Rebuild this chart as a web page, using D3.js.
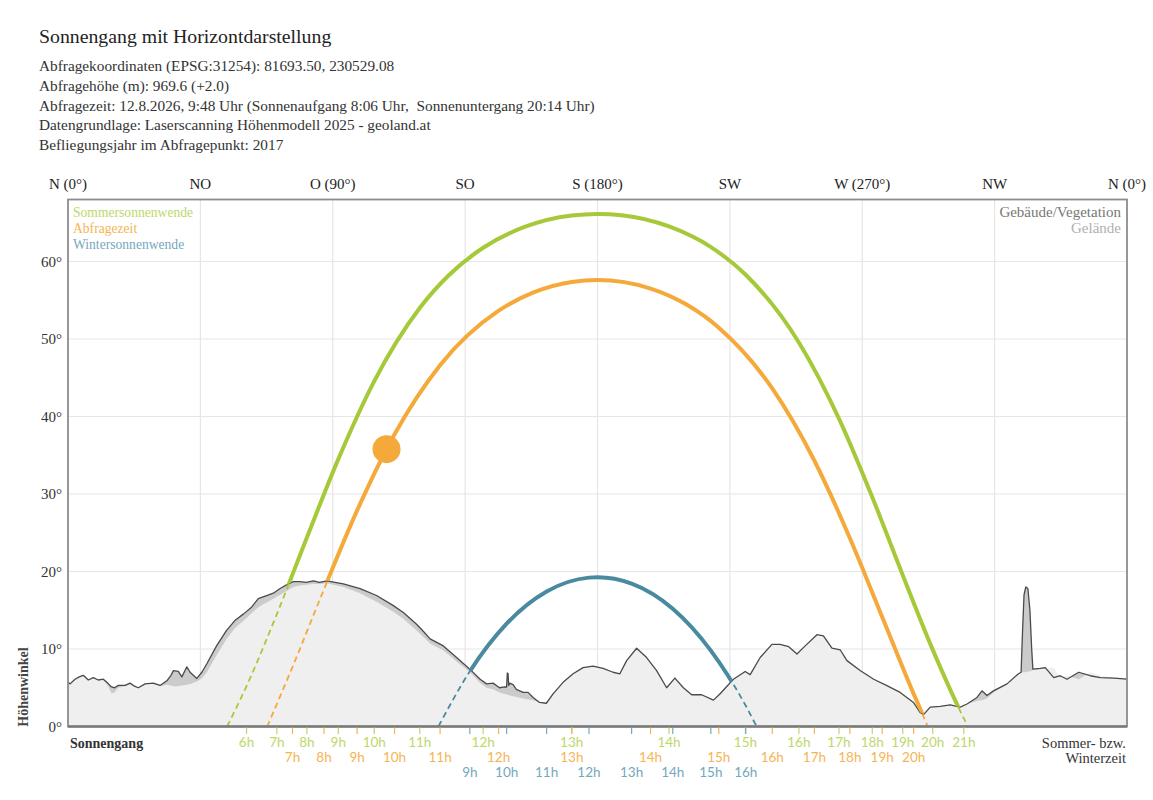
<!DOCTYPE html>
<html>
<head>
<meta charset="utf-8">
<script src="https://cdn.jsdelivr.net/npm/d3@7/dist/d3.min.js"></script>
<style>
  html, body { margin: 0; padding: 0; background: #fff; }
  svg { display: block; }
  .serif { font-family: "Liberation Serif", "Times New Roman", serif; }
  .sans { font-family: "Lato", "Noto Sans", sans-serif; }
</style>
</head>
<body>
<svg id="chart" width="1153" height="800"></svg>
<script>
// ---------------- DATA ----------------
const titleText = "Sonnengang mit Horizontdarstellung";
const infoLines = [
  "Abfragekoordinaten (EPSG:31254): 81693.50, 230529.08",
  "Abfragehöhe (m): 969.6 (+2.0)",
  "Abfragezeit: 12.8.2026, 9:48 Uhr (Sonnenaufgang 8:06 Uhr,  Sonnenuntergang 20:14 Uhr)",
  "Datengrundlage: Laserscanning Höhenmodell 2025 - geoland.at",
  "Befliegungsjahr im Abfragepunkt: 2017"
];
const compassAz = [0, 45, 90, 135, 180, 225, 270, 315, 360];
const compassLabels = ["N (0°)", "NO", "O (90°)", "SO", "S (180°)", "SW", "W (270°)", "NW", "N (0°)"];
const altTicks = [0, 10, 20, 30, 40, 50, 60];

// Horizon profile: azimuth (deg), total horizon incl. buildings/vegetation, terrain only
const horizonAz = [0, 0.7, 2.4, 3.8, 5.2, 6.9, 8.6, 10.3, 12.0, 13.5, 14.8, 15.8, 17.1, 19.4, 21.1, 22.6, 23.9, 26.2, 29.0, 31.3, 33.6, 35.0, 35.8, 37.5, 38.7, 40.4, 41.5, 43.8, 45.5, 47.2, 50.5, 53.9, 56.8, 59.6, 62.4, 64.7, 67.5, 69.8, 72.1, 74.9, 76.6, 78.9, 81.0, 83.4, 85.5, 88.0, 93.6, 99.3, 104.9, 110.6, 114.0, 118.5, 121.0, 123.1, 127.6, 132.1, 136.6, 140.1, 142.3, 144.5, 146.7, 148.4, 149.1, 149.35, 149.6, 149.8, 150.2, 151.3, 152.4, 154.7, 156.4, 158.1, 160.3, 162.6, 164.9, 168.3, 171.7, 175.1, 178.5, 181.9, 185.3, 187.6, 189.9, 193.3, 196.7, 200.1, 203.5, 206.3, 209.2, 212.0, 215.4, 219.4, 221.6, 226.2, 230.2, 231.9, 235.3, 239.3, 242.1, 245.0, 247.8, 250.6, 254.6, 256.8, 259.7, 262.5, 264.8, 269.4, 273.9, 278.2, 282.9, 287.4, 289.7, 291.0, 293.1, 296.5, 299.9, 303.3, 305.6, 309.0, 310.7, 312.4, 314.6, 319.2, 323.1, 324.0, 324.5, 325.0, 325.6, 326.3, 327.0, 327.6, 328.0, 330.5, 332.2, 335.1, 337.3, 339.6, 343.6, 347.5, 350.9, 355.5, 360];
const horizonTotal = [5.7, 5.5, 6.1, 6.4, 6.6, 6.0, 6.3, 6.0, 6.1, 5.6, 5.1, 5.0, 5.3, 5.3, 5.6, 5.2, 5.0, 5.5, 5.6, 5.3, 5.9, 6.6, 7.2, 7.1, 6.4, 7.7, 7.0, 6.2, 7.0, 8.1, 10.4, 12.4, 13.7, 14.5, 15.4, 16.5, 16.9, 17.2, 17.8, 18.4, 18.7, 18.7, 18.6, 18.8, 18.6, 18.8, 18.4, 17.8, 16.9, 15.6, 14.7, 13.2, 12.2, 11.3, 10.4, 8.9, 7.4, 6.1, 5.5, 5.6, 5.0, 5.1, 5.1, 6.9, 6.8, 5.3, 5.6, 5.4, 4.8, 4.4, 4.4, 3.75, 3.1, 3.0, 4.2, 5.7, 6.8, 7.6, 7.8, 7.5, 7.0, 6.8, 8.5, 10.1, 8.9, 7.2, 5.0, 6.25, 5.0, 4.1, 4.1, 3.4, 4.2, 6.1, 7.1, 6.7, 8.9, 10.6, 10.6, 10.3, 9.35, 10.4, 11.85, 11.7, 10.1, 9.9, 8.5, 7.2, 6.1, 5.3, 4.4, 3.1, 1.8, 1.6, 2.5, 2.6, 2.8, 2.5, 2.9, 3.75, 4.6, 4.0, 4.6, 5.5, 6.8, 7.0, 12.4, 17.0, 18.0, 17.8, 15.0, 10.0, 7.4, 7.5, 7.6, 6.3, 6.55, 6.1, 7.0, 6.55, 6.3, 6.25, 6.1];
const horizonTerrain = [5.7, 5.5, 6.1, 6.4, 6.6, 6.0, 6.3, 6.0, 6.0, 5.3, 4.3, 4.4, 5.0, 5.2, 5.5, 5.1, 5.0, 5.5, 5.5, 5.2, 5.4, 5.3, 5.2, 5.2, 5.3, 5.4, 5.5, 5.8, 6.2, 7.0, 9.2, 11.3, 12.7, 13.6, 14.6, 15.4, 16.0, 16.5, 17.0, 17.6, 18.0, 18.2, 18.3, 18.4, 18.4, 18.5, 18.0, 17.2, 16.1, 14.8, 13.9, 12.4, 11.5, 10.7, 9.8, 8.4, 7.0, 5.6, 5.0, 4.8, 4.4, 4.2, 4.15, 4.1, 4.1, 4.05, 4.0, 3.9, 3.8, 3.6, 3.5, 3.4, 3.1, 3.0, 4.2, 5.7, 6.8, 7.6, 7.8, 7.5, 7.0, 6.8, 8.5, 10.1, 8.9, 7.2, 5.0, 6.25, 5.0, 4.1, 4.1, 3.4, 4.2, 6.1, 7.1, 6.7, 8.9, 10.6, 10.6, 10.3, 9.35, 10.4, 11.85, 11.7, 10.1, 9.9, 8.5, 7.2, 6.1, 5.3, 4.4, 3.1, 1.8, 1.6, 2.5, 2.6, 2.8, 2.5, 2.9, 3.3, 3.4, 3.6, 4.4, 5.5, 6.8, 7.0, 7.0, 7.0, 7.0, 7.1, 7.1, 7.2, 7.3, 7.4, 7.5, 7.6, 6.3, 6.55, 6.1, 7.0, 6.55, 6.3, 6.25, 6.1];

// Sun paths (azimuth, altitude), sunrise -> hourly / half-hourly points -> noon -> sunset
const summerPathAz  = [54.09, 60.7, 71.0, 81.19, 91.89, 104.12, 119.57, 129.36, 141.13, 155.18, 171.22, 180, 188.25, 204.32, 218.45, 230.29, 248.46, 262.08, 273.41, 283.77, 293.95, 304.53, 305.91];
const summerPathAlt = [0, 5.22, 14.50, 24.36, 34.50, 44.57, 54.0, 58.19, 61.77, 64.46, 65.94, 66.14, 65.97, 64.52, 61.88, 58.32, 49.55, 39.72, 29.58, 19.53, 9.92, 1.04, 0];
const queryPathAz   = [67.72, 76.32, 87.04, 98.29, 111.01, 126.49, 146.39, 158.27, 171.29, 180, 198.03, 210.26, 221.24, 239.41, 253.74, 265.80, 276.78, 287.48, 292.28];
const queryPathAlt  = [0, 7.68, 17.73, 27.88, 37.71, 46.62, 53.65, 56.01, 57.36, 57.6, 56.51, 54.44, 51.46, 43.62, 34.29, 24.30, 14.14, 4.21, 0];
const winterPathAz  = [125.92, 136.60, 149.12, 162.71, 177.10, 180, 191.60, 205.59, 218.53, 230.4, 234.08];
const winterPathAlt = [0, 7.12, 13.27, 17.42, 19.21, 19.26, 18.44, 15.19, 9.79, 2.67, 0];

// Hour marks on the azimuth axis
const summerHours = ["6h","7h","8h","9h","10h","11h","12h","13h","14h","15h","16h","17h","18h","19h","20h","21h"];
const summerHourAz = [60.7, 71.0, 81.19, 91.89, 104.12, 119.57, 141.13, 171.22, 204.32, 230.29, 248.46, 262.08, 273.41, 283.77, 293.95, 304.53];
const queryHours = ["7h","8h","9h","10h","11h","12h","13h","14h","15h","16h","17h","18h","19h","20h"];
const queryHourAz = [76.32, 87.04, 98.29, 111.01, 126.49, 146.39, 171.29, 198.03, 221.24, 239.41, 253.74, 265.80, 276.78, 287.48];
const winterHours = ["9h","10h","11h","12h","13h","14h","15h","16h"];
const winterHourAz = [136.60, 149.12, 162.71, 177.10, 191.60, 205.59, 218.53, 230.4];

// Current sun position (query time 9:48)
const sunAz = 108.28, sunAlt = 35.78;

const legendLeft = ["Sommersonnenwende", "Abfragezeit", "Wintersonnenwende"];
const legendRight = ["Gebäude/Vegetation", "Gelände"];

// ---------------- DRAW ----------------
const svg = d3.select("#chart");
const X0 = 68, X1 = 1127, YT = 199.5, YB = 726.5;
const x = d3.scaleLinear().domain([0, 360]).range([X0, X1]);
const y = d3.scaleLinear().domain([0, 68]).range([YB, YT]);

const C = {
  summer: "#a6c93a", query: "#f5a93a", winter: "#4a8aa0",
  summerT: "#bcd86a", queryT: "#f6b453", winterT: "#74a8bc"
};

// Title & info
svg.append("text").attr("class", "serif").attr("x", 39).attr("y", 43)
  .attr("font-size", 19.8).attr("fill", "#222").text(titleText);
svg.selectAll(".info").data(infoLines).enter().append("text")
  .attr("class", "serif info").attr("x", 39).attr("y", (d, i) => 71 + i * 19.8)
  .attr("font-size", 15.3).attr("fill", "#333").style("white-space", "pre").text(d => d);

// Grid
const g = svg.append("g");
g.selectAll(".vg").data(compassAz.slice(1, -1)).enter().append("line")
  .attr("x1", d => x(d)).attr("x2", d => x(d)).attr("y1", YT).attr("y2", YB)
  .attr("stroke", "#e6e6e6").attr("stroke-width", 1.2);
g.selectAll(".hg").data(altTicks.slice(1)).enter().append("line")
  .attr("x1", X0).attr("x2", X1).attr("y1", d => y(d)).attr("y2", d => y(d))
  .attr("stroke", "#e6e6e6").attr("stroke-width", 1.2);

// Horizon
const hor = horizonAz.map((a, i) => ({ az: a, tot: horizonTotal[i], ter: horizonTerrain[i] }));
const areaTot = d3.area().x(d => x(d.az)).y0(YB).y1(d => y(d.tot));
const areaTer = d3.area().x(d => x(d.az)).y0(YB).y1(d => y(d.ter));
g.append("path").attr("d", areaTot(hor)).attr("fill", "#cbcbcb");
g.append("path").attr("d", areaTer(hor)).attr("fill", "#efefef");

// Clip paths above / below horizon
const defs = svg.append("defs");
defs.append("clipPath").attr("id", "above").append("path")
  .attr("d", d3.area().x(d => x(d.az)).y0(0).y1(d => y(d.tot))(hor));
defs.append("clipPath").attr("id", "below").append("path")
  .attr("d", d3.area().x(d => x(d.az)).y0(d => y(d.tot)).y1(800)(hor));

// Horizon outline
g.append("path").attr("d", d3.line().x(d => x(d.az)).y(d => y(d.tot))(hor))
  .attr("fill", "none").attr("stroke", "#4a4a4a").attr("stroke-width", 1.3).attr("stroke-linejoin", "round");

// Sun paths
const sunLine = d3.line().x(d => x(d[0])).y(d => y(d[1])).curve(d3.curveMonotoneX);
function drawPath(az, alt, col) {
  const pts = az.map((a, i) => [a, alt[i]]);
  g.append("path").attr("d", sunLine(pts)).attr("clip-path", "url(#below)")
    .attr("fill", "none").attr("stroke", col).attr("stroke-width", 1.8).attr("stroke-dasharray", "6,4");
  g.append("path").attr("d", sunLine(pts)).attr("clip-path", "url(#above)")
    .attr("fill", "none").attr("stroke", col).attr("stroke-width", 4).attr("stroke-linecap", "butt");
}
drawPath(winterPathAz, winterPathAlt, C.winter);
drawPath(queryPathAz, queryPathAlt, C.query);
drawPath(summerPathAz, summerPathAlt, C.summer);

// Sun marker
g.append("circle").attr("cx", x(sunAz)).attr("cy", y(sunAlt)).attr("r", 14).attr("fill", C.query);

// Frame
svg.append("rect").attr("x", X0).attr("y", YT).attr("width", X1 - X0).attr("height", YB - YT)
  .attr("fill", "none").attr("stroke", "#8c8c8c").attr("stroke-width", 1.8);
svg.append("line").attr("x1", X0).attr("x2", X1).attr("y1", YB).attr("y2", YB)
  .attr("stroke", "#7a7a7a").attr("stroke-width", 2.6);

// Compass labels (top)
svg.selectAll(".cmp").data(compassAz).enter().append("text")
  .attr("class", "serif").attr("x", d => x(d)).attr("y", 189).attr("text-anchor", "middle")
  .attr("font-size", 15).attr("fill", "#222").text((d, i) => compassLabels[i]);

// Altitude axis
const yAxis = d3.axisLeft(y).tickValues(altTicks).tickSize(0).tickPadding(6).tickFormat(d => d + "°");
const ya = svg.append("g").attr("transform", `translate(${X0},0)`).call(yAxis);
ya.select(".domain").remove();
ya.selectAll("text").attr("class", "serif").attr("font-size", 15).attr("fill", "#333")
  .attr("font-family", "Liberation Serif");

svg.append("text").attr("class", "serif").attr("transform", "translate(28,687) rotate(-90)")
  .attr("text-anchor", "middle").attr("font-size", 14).attr("font-weight", "bold").attr("fill", "#444").text("Höhenwinkel");

// Hour ticks & labels
function hourRow(hAz, labels, col, colT, baseY) {
  svg.selectAll(null).data(hAz).enter().append("line")
    .attr("x1", d => x(d)).attr("x2", d => x(d)).attr("y1", YB + 1).attr("y2", YB + 7.5)
    .attr("stroke", col).attr("stroke-width", 1.2);
  svg.selectAll(null).data(hAz).enter().append("text")
    .attr("class", "sans").attr("x", d => x(d)).attr("y", baseY).attr("text-anchor", "middle")
    .attr("font-size", 13.5).attr("fill", colT).text((d, i) => labels[i]);
}
hourRow(summerHourAz, summerHours, C.summerT, C.summerT, 747);
hourRow(queryHourAz, queryHours, C.queryT, C.queryT, 762);
hourRow(winterHourAz, winterHours, C.winterT, C.winterT, 777);

svg.append("text").attr("class", "serif").attr("x", 70).attr("y", 748)
  .attr("font-size", 14).attr("font-weight", "bold").attr("fill", "#333").text("Sonnengang");
svg.append("text").attr("class", "serif").attr("x", 1126).attr("y", 748).attr("text-anchor", "end")
  .attr("font-size", 14.5).attr("fill", "#333").text("Sommer- bzw.");
svg.append("text").attr("class", "serif").attr("x", 1126).attr("y", 763).attr("text-anchor", "end")
  .attr("font-size", 14.5).attr("fill", "#333").text("Winterzeit");

// Legends
const legCols = [C.summerT, C.queryT, C.winterT];
svg.selectAll(".legL").data(legendLeft).enter().append("text")
  .attr("class", "serif").attr("x", 73).attr("y", (d, i) => 217 + i * 16)
  .attr("font-size", 13.6).attr("fill", (d, i) => legCols[i]).text(d => d);
const legRCols = ["#777", "#b0b0b0"];
svg.selectAll(".legR").data(legendRight).enter().append("text")
  .attr("class", "serif").attr("x", 1121).attr("y", (d, i) => 217 + i * 16).attr("text-anchor", "end")
  .attr("font-size", 15).attr("fill", (d, i) => legRCols[i]).text(d => d);
</script>
</body>
</html>
